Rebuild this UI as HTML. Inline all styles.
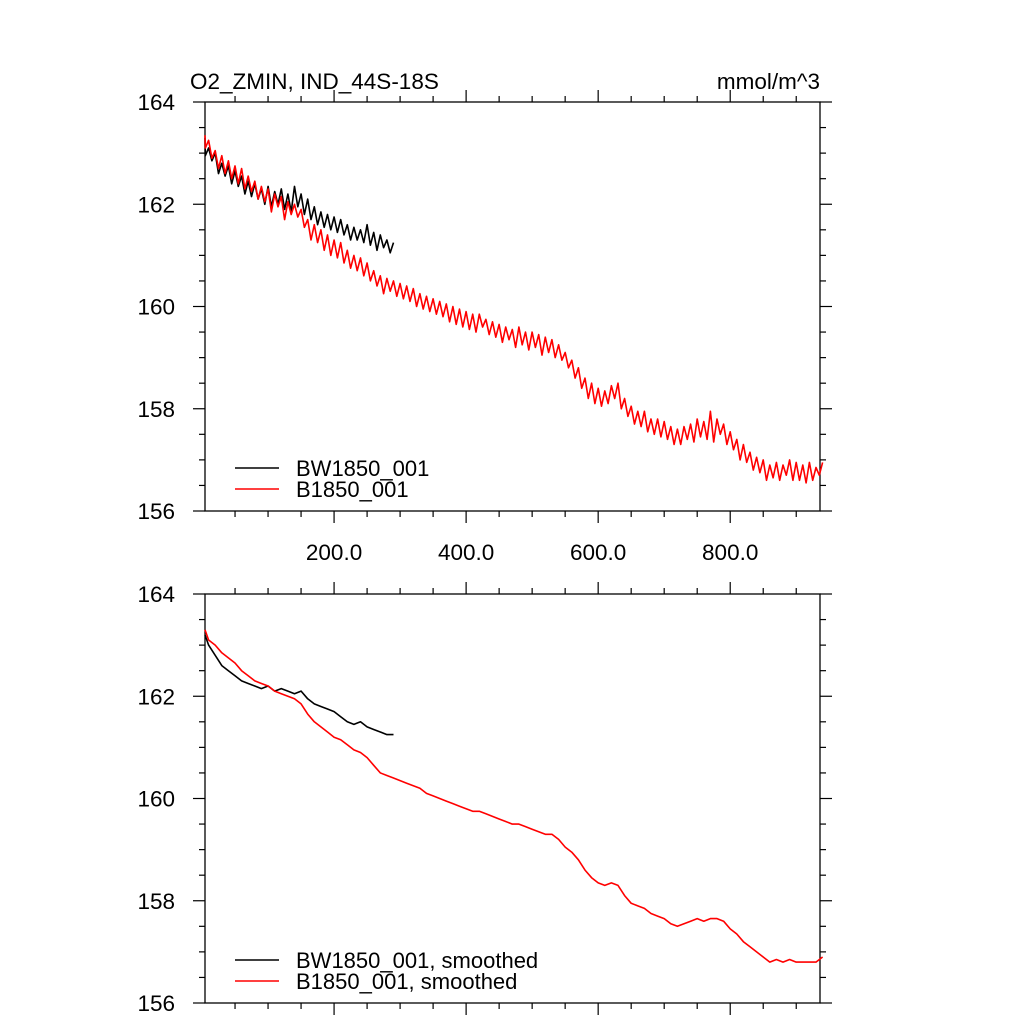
<!DOCTYPE html>
<html><head><meta charset="utf-8"><style>
body{margin:0;background:#fff}
svg text{font-family:"Liberation Sans",sans-serif;fill:#000}
</style></head><body>
<svg id="chart" width="1024" height="1024" xmlns="http://www.w3.org/2000/svg">
<text x="190" y="89" font-size="22.5">O2_ZMIN, IND_44S-18S</text>
<text x="820" y="89" font-size="22.5" text-anchor="end">mmol/m^3</text>
</svg>
<script>
const redRaw=[163.35,163.1,163.25,162.9,163.05,162.7,162.95,162.6,162.85,162.5,
162.75,162.4,162.7,162.3,162.55,162.25,162.45,162.1,162.35,162.05,
162.3,161.85,162.2,161.95,162.15,161.7,162.05,161.8,162.0,161.75,
161.9,161.55,161.7,161.3,161.6,161.25,161.5,161.1,161.4,161.0,
161.3,160.95,161.25,160.85,161.1,160.75,161.0,160.7,160.95,160.6,
160.85,160.5,160.7,160.4,160.6,160.25,160.55,160.3,160.5,160.2,
160.45,160.15,160.4,160.1,160.35,160.0,160.25,159.95,160.2,159.9,
160.15,159.85,160.1,159.8,160.05,159.7,160.0,159.65,159.95,159.6,
159.9,159.55,159.85,159.5,159.85,159.6,159.75,159.45,159.7,159.4,
159.65,159.3,159.6,159.35,159.55,159.2,159.6,159.25,159.5,159.15,
159.5,159.2,159.45,159.05,159.4,159.1,159.35,159.0,159.25,158.95,
159.1,158.8,158.95,158.6,158.8,158.4,158.6,158.2,158.5,158.1,
158.4,158.05,158.35,158.1,158.45,158.2,158.5,158.0,158.2,157.85,
158.05,157.7,157.95,157.65,157.95,157.55,157.8,157.5,157.8,157.45,
157.75,157.4,157.65,157.3,157.6,157.3,157.65,157.4,157.7,157.35,
157.8,157.45,157.75,157.4,157.95,157.35,157.8,157.5,157.7,157.3,
157.55,157.2,157.4,157.0,157.3,156.95,157.15,156.8,157.05,156.75,
157.0,156.6,156.9,156.65,156.95,156.6,156.9,156.7,157.0,156.6,
156.95,156.6,156.9,156.55,156.95,156.6,156.85,156.7,156.95];
const blackRaw=[163.3,162.95,163.1,162.85,163.0,162.6,162.8,162.55,162.75,162.4,
162.65,162.35,162.55,162.2,162.45,162.15,162.4,162.1,162.3,162.0,
162.35,161.95,162.25,162.0,162.3,161.9,162.2,161.85,162.35,161.95,
162.2,161.8,162.1,161.7,161.95,161.6,161.85,161.55,161.8,161.5,
161.75,161.45,161.7,161.4,161.6,161.3,161.55,161.3,161.5,161.25,
161.6,161.2,161.45,161.1,161.4,161.15,161.3,161.05,161.25];
const redSmooth=[163.3,163.1,163.0,162.85,162.75,162.65,162.5,162.4,162.3,162.25,162.2,162.1,162.05,162.0,161.95,161.85,161.65,161.5,161.4,161.3,161.2,161.15,161.05,160.95,160.9,160.8,160.65,160.5,160.45,160.4,160.35,160.3,160.25,160.2,160.1,160.05,160.0,159.95,159.9,159.85,159.8,159.75,159.75,159.7,159.65,159.6,159.55,159.5,159.5,159.45,159.4,159.35,159.3,159.3,159.2,159.05,158.95,158.8,158.6,158.45,158.35,158.3,158.35,158.3,158.1,157.95,157.9,157.85,157.75,157.7,157.65,157.55,157.5,157.55,157.6,157.65,157.6,157.65,157.65,157.6,157.45,157.35,157.2,157.1,157.0,156.9,156.8,156.85,156.8,156.85,156.8,156.8,156.8,156.8,156.9];
const blackSmooth=[163.2,163.0,162.8,162.6,162.5,162.4,162.3,162.25,162.2,162.15,162.2,162.1,162.15,162.1,162.05,162.1,161.95,161.85,161.8,161.75,161.7,161.6,161.5,161.45,161.5,161.4,161.35,161.3,161.25,161.25];
const rawStep=5, smoothStep=10;
const xTickVals=[200,400,600,800];
const xTickLabels=["200.0","400.0","600.0","800.0"];
const yTickVals=[156,158,160,162,164];
const seriesNames1=["BW1850_001","B1850_001"];
const seriesNames2=["BW1850_001, smoothed","B1850_001, smoothed"];

const NS="http://www.w3.org/2000/svg";
const svg=document.getElementById('chart');
const L=205,R=820,XMIN=4.5,XMAX=936;
const sx=v=>L+(v-XMIN)/(XMAX-XMIN)*(R-L);
function mk(tag,attrs,parent){const e=document.createElementNS(NS,tag);for(const k in attrs)e.setAttribute(k,attrs[k]);(parent||svg).appendChild(e);return e;}

function panel(top,bot,series,names,showX,pname){
  const g=mk('g',{});
  
  
  const sy=v=>bot-(v-156)/(164-156)*(bot-top);
  const frame=mk('rect',{x:L,y:top,width:R-L,height:bot-top,fill:'none',stroke:'#000','stroke-width':1.3},g);
  
  
  for(let v=50;v<XMAX;v+=50){
    const major=v%200===0;const len=major?12:6;const x=sx(v);
    const t1=mk('line',{x1:x,x2:x,y1:bot,y2:bot+len,stroke:'#000','stroke-width':1.2},g);
    
    
    const t2=mk('line',{x1:x,x2:x,y1:top,y2:top-len,stroke:'#000','stroke-width':1.2},g);
    
    
  }
  if(showX){xTickVals.forEach((v,i)=>{const t=mk('text',{x:sx(v),y:bot+49,'font-size':22.5,'text-anchor':'middle'},g);t.textContent=xTickLabels[i];
    
    });}
  for(let v=156;v<=164.001;v+=0.5){
    const major=Math.abs(v/2-Math.round(v/2))<1e-6;const len=major?12:6;const y=sy(v);
    const a=mk('line',{x1:L,x2:L-len,y1:y,y2:y,stroke:'#000','stroke-width':1.2},g);
    
    
    const b=mk('line',{x1:R,x2:R+len,y1:y,y2:y,stroke:'#000','stroke-width':1.2},g);
    
    
  }
  yTickVals.forEach(v=>{const t=mk('text',{x:L-30,y:sy(v)+8,'font-size':22.5,'text-anchor':'end'},g);t.textContent=String(v);
    
    });
  series.forEach(s=>{
    const d=s.data.map((v,i)=>(i?'L':'M')+sx(Math.max(i*s.step,XMIN)).toFixed(1)+' '+sy(v).toFixed(1)).join(' ');
    const p=mk('path',{d:d,fill:'none',stroke:s.color,'stroke-width':1.6,'stroke-linejoin':'round'},g);
    
    
  });
  const ly=[bot-43,bot-22];const cols=['#000','#f00'];
  names.forEach((n,i)=>{
    const l=mk('line',{x1:235,x2:279,y1:ly[i],y2:ly[i],stroke:cols[i],'stroke-width':1.6},g);
    
    
    const t=mk('text',{x:296,y:ly[i]+8,'font-size':22},g);t.textContent=n;
    
    
  });
}
panel(102,511,[{data:blackRaw,step:rawStep,color:'#000',name:'bw1850-line'},{data:redRaw,step:rawStep,color:'#f00',name:'b1850-line'}],seriesNames1,true,'top-panel');
panel(594,1003,[{data:blackSmooth,step:smoothStep,color:'#000',name:'bw1850-smoothed-line'},{data:redSmooth,step:smoothStep,color:'#f00',name:'b1850-smoothed-line'}],seriesNames2,false,'bottom-panel');
</script>
</body></html>
